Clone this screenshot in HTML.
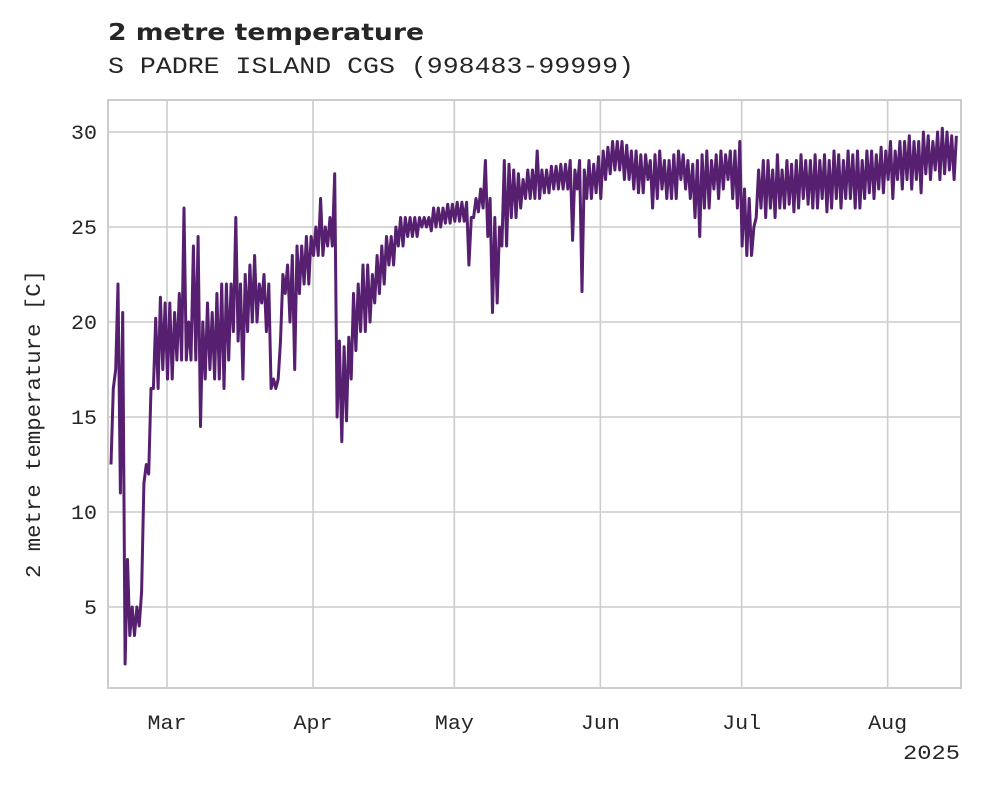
<!DOCTYPE html>
<html><head><meta charset="utf-8"><style>
body{margin:0;background:#fff;}
svg{display:block;}
text{fill:#262626;}
</style></head><body>
<svg id="chart" width="981" height="785" xmlns="http://www.w3.org/2000/svg">
<text x="108" y="40" font-family="DejaVu Sans, Liberation Sans, sans-serif" font-weight="bold" font-size="23" textLength="316" lengthAdjust="spacingAndGlyphs">2 metre temperature</text>
<text x="108" y="73" font-family="Liberation Mono, DejaVu Sans Mono, monospace" font-size="23" textLength="526" lengthAdjust="spacingAndGlyphs">S PADRE ISLAND CGS (998483-99999)</text>
<g id="grid"></g>
<g id="plot"></g>
<rect x="108" y="100" width="853" height="588" fill="none" stroke="#cccccc" stroke-width="2"/>
<g id="axes"></g>
<text transform="translate(40,424) rotate(-90)" text-anchor="middle" font-family="Liberation Mono, DejaVu Sans Mono, monospace" font-size="21" textLength="308" lengthAdjust="spacingAndGlyphs">2 metre temperature [C]</text>
<text x="960" y="759" text-anchor="end" font-family="Liberation Mono, DejaVu Sans Mono, monospace" font-size="20" textLength="57" lengthAdjust="spacingAndGlyphs">2025</text>
</svg>
<script>
const yTicks=[5,10,15,20,25,30];
const monthLabels=["Mar","Apr","May","Jun","Jul","Aug"];
const monthStartDays=[12,43,73,104,134,165]; // days since Feb 17
const dailyHigh=[16.5,22,20.5,7.5,5,5,5.8,12.5,16.5,20.2,21.3,21,
21,20.5,21.5,26,20,24,24.5,20,21,20.5,21.5,22,22,22,25.5,22,22.5,23,23.5,22,22.5,22,17,17,22.5,23,23.5,24,24,24.5,24.5,
25,26.5,25,25.5,27.8,19,18.7,19.2,21.5,22,23,23,22.5,23.5,24,24.5,24.5,25,25.5,25.5,25.5,25.5,25.5,25.5,25.5,26,26,26,26.2,26.2,
26.3,26.3,26.3,25.5,26.5,27,28.5,26.5,25.5,25,28.5,28.3,28,27.8,27.5,28,28,29,28,28,28.2,28.2,28.3,28.3,28.5,28,28.5,28,28.5,28.3,28.7,
29,29.2,29.5,29.5,29.5,29.3,29,29,28.8,28.8,28.5,28.8,29,28.5,28.5,28.8,29,28.8,28.5,28.3,28.5,28.8,29,28.5,28.8,29,28.8,29,29,29.5,
27,26.5,25,28,28.5,28.5,28,28.8,28,28.5,28.3,28.5,28.8,28.5,28.5,28.8,28.5,28.8,28.5,29,28.8,28.5,29,28.8,29,28.5,29,29,28.8,29.2,29,
29.5,29,29.5,29.5,29.8,29.5,29.5,30,29.8,29.5,30,30.2,30,29.8,29.8];
const dailyLow=[12.5,17.5,11,2,3.5,3.5,4,11.5,12,16.5,16.5,17.5,
17,17,18,18,18,18,18,14.5,17,17.5,17,17,16.5,18,19.5,19,17,19.5,20,20,21,19.5,16.5,16.5,19,21.5,20,17.5,21.5,22,22,
23.5,23.5,23.5,24,24,15,13.7,14.8,17,18.5,19.5,19.5,20,21,21.5,22,23,23,24,24,24.5,24.5,24.5,25,25,24.8,25,25,25.2,25.2,
25.3,25.3,25.3,23,25.5,25.8,26,24.5,20.5,21,24,24,25.5,25.5,26,26.5,26.5,26.5,26.5,26.8,26.8,27,27,27,27,24.3,27,21.6,26.5,26.5,26.8,
26.5,27.5,27.8,28,28,27.5,27.5,27,26.8,26.8,27.5,26,26.5,27,26.5,26.5,26.5,27.5,27,26.5,25.5,24.5,26,26,27,26.5,27,27.5,26.5,26,
24,23.5,23.5,25.5,26,25.5,26,25.5,26,26,26.2,25.8,26,26.5,26.2,26,26,26.5,25.8,26,26.5,26,26.5,26.5,26,26,26.5,26.8,26.5,27,26.8,
27.5,26.5,27.5,27,27.5,27,27.5,26.8,27.8,27.5,28,27.5,27.8,28,27.5];

const NS="http://www.w3.org/2000/svg";
const xScale=d=>110.5+4.71*d;
const yScale=v=>132+(30-v)*19;
const grid=document.getElementById('grid');
const axes=document.getElementById('axes');
const plot=document.getElementById('plot');

yTicks.forEach(t=>{
  const l=document.createElementNS(NS,'line');
  
  
  l.setAttribute('x1',108);l.setAttribute('x2',961);
  l.setAttribute('y1',yScale(t));l.setAttribute('y2',yScale(t));
  l.setAttribute('stroke','#cccccc');l.setAttribute('stroke-width','1.6');
  grid.appendChild(l);
  const tx=document.createElementNS(NS,'text');
  
  
  tx.setAttribute('x',97);tx.setAttribute('y',yScale(t)+7);
  tx.setAttribute('text-anchor','end');
  tx.setAttribute('font-family','Liberation Mono, DejaVu Sans Mono, monospace');
  tx.setAttribute('font-size','20');
  tx.setAttribute('textLength',String(t).length*13);
  tx.setAttribute('lengthAdjust','spacingAndGlyphs');
  tx.textContent=t;
  axes.appendChild(tx);
});
monthLabels.forEach((m,i)=>{
  const x=xScale(monthStartDays[i]);
  const l=document.createElementNS(NS,'line');
  
  
  l.setAttribute('x1',x);l.setAttribute('x2',x);
  l.setAttribute('y1',100);l.setAttribute('y2',688);
  l.setAttribute('stroke','#cccccc');l.setAttribute('stroke-width','1.6');
  grid.appendChild(l);
  const tx=document.createElementNS(NS,'text');
  
  
  tx.setAttribute('x',x-19.5);tx.setAttribute('y',729);
  tx.setAttribute('font-family','Liberation Mono, DejaVu Sans Mono, monospace');
  tx.setAttribute('font-size','20');
  tx.setAttribute('textLength','39');
  tx.setAttribute('lengthAdjust','spacingAndGlyphs');
  tx.textContent=m;
  axes.appendChild(tx);
});
let pts=[];
for(let i=0;i<dailyHigh.length;i++){
  pts.push(xScale(i+0.1).toFixed(1)+','+yScale(dailyLow[i]).toFixed(1));
  pts.push(xScale(i+0.6).toFixed(1)+','+yScale(dailyHigh[i]).toFixed(1));
}
const pl=document.createElementNS(NS,'polyline');


pl.setAttribute('points',pts.join(' '));
pl.setAttribute('fill','none');
pl.setAttribute('stroke','#561f70');
pl.setAttribute('stroke-width','3');
pl.setAttribute('stroke-linejoin','round');
plot.appendChild(pl);
</script>
</body></html>
